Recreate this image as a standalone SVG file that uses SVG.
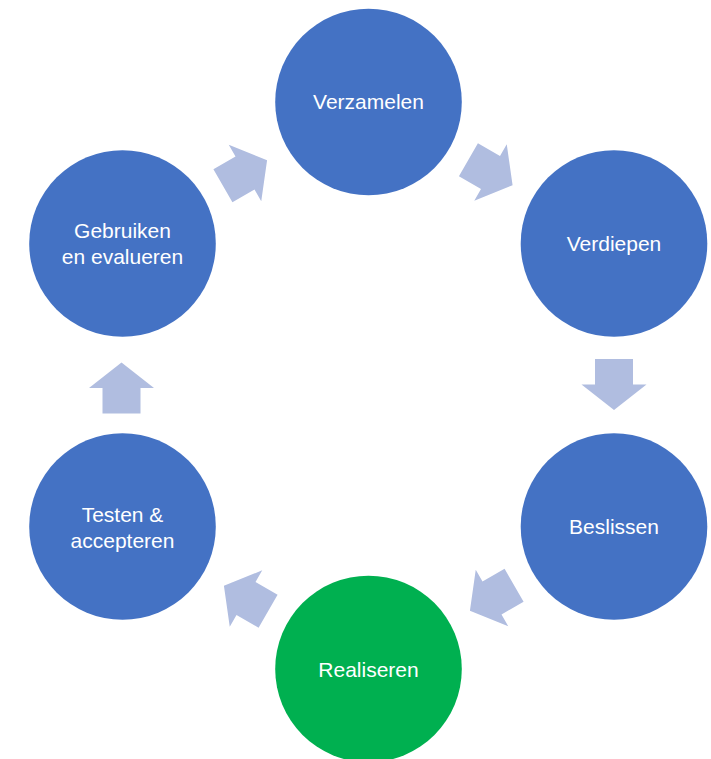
<svg xmlns="http://www.w3.org/2000/svg" width="711" height="759" viewBox="0 0 711 759">
<defs>
<style>
.node{fill:#4472C4;}
.green{fill:#00B050;}
.lbl{font-family:"Liberation Sans",Arial,sans-serif;font-size:21px;fill:#FFFFFF;text-anchor:middle;}
.arr{fill:#B0BDE0;}
</style>
<path id="arrow" d="M -25.5 -19 L 0 -19 L 0 -32.5 L 25.5 0 L 0 32.5 L 0 19 L -25.5 19 Z"/>
</defs>
<rect width="711" height="759" fill="#FFFFFF"/>
<g id="connectors">
<use href="#arrow" class="arr" transform="translate(245,173) rotate(-30)"/>
<use href="#arrow" class="arr" transform="translate(490.5,172.5) rotate(30)"/>
<use href="#arrow" class="arr" transform="translate(614,384.5) rotate(90)"/>
<use href="#arrow" class="arr" transform="translate(492,598) rotate(150)"/>
<use href="#arrow" class="arr" transform="translate(246,598.5) rotate(210)"/>
<use href="#arrow" class="arr" transform="translate(121.5,388) rotate(-90)"/>
</g>
<g id="node-verzamelen">
<circle class="node" cx="368.5" cy="102" r="93.3"/>
<text class="lbl" x="368.5" y="109">Verzamelen</text>
</g>
<g id="node-verdiepen">
<circle class="node" cx="614" cy="243.5" r="93.3"/>
<text class="lbl" x="614" y="250.5">Verdiepen</text>
</g>
<g id="node-beslissen">
<circle class="node" cx="614" cy="526.5" r="93.3"/>
<text class="lbl" x="614" y="533.5">Beslissen</text>
</g>
<g id="node-realiseren">
<circle class="green" cx="368.5" cy="669" r="93.3"/>
<text class="lbl" x="368.5" y="676.5">Realiseren</text>
</g>
<g id="node-testen">
<circle class="node" cx="122.5" cy="526.5" r="93.3"/>
<text class="lbl" x="122.5" y="521.5">Testen &amp;</text>
<text class="lbl" x="122.5" y="547.5">accepteren</text>
</g>
<g id="node-gebruiken">
<circle class="node" cx="122.5" cy="243.5" r="93.3"/>
<text class="lbl" x="122.5" y="237.5">Gebruiken</text>
<text class="lbl" x="122.5" y="263.5">en evalueren</text>
</g>
</svg>
